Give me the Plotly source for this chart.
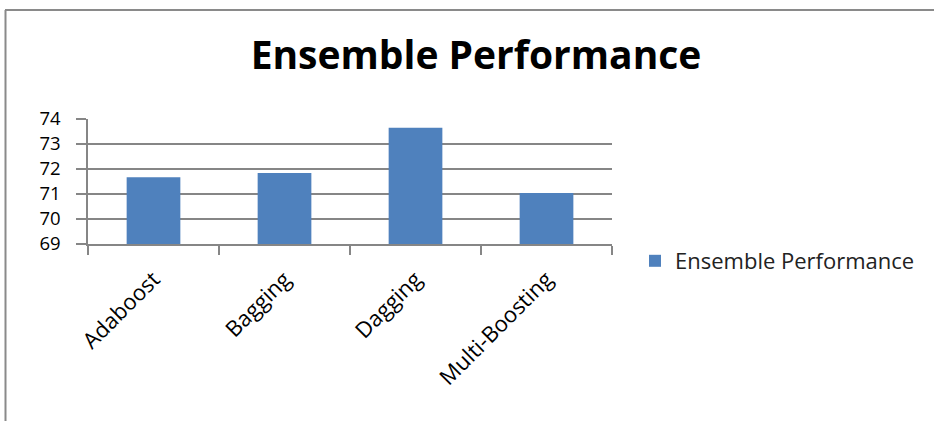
import plotly.graph_objects as go

categories = ["Adaboost", "Bagging", "Dagging", "Multi-Boosting"]
values = [71.67, 71.84, 73.65, 71.04]
series_name = "Ensemble Performance"
y_ticks = [69, 70, 71, 72, 73, 74]

W, H = 934, 421
L, R, T, B = 88, 612, 119, 244

fig = go.Figure()
fig.add_trace(go.Bar(
    x=categories, y=values, name=series_name,
    marker=dict(color="#4F81BD", line=dict(width=0)),
    width=0.41,
))

font = "Open Sans, sans-serif"

def px_x(p):
    return (p - L) / (R - L)

def px_y(p):
    return (B - p) / (B - T)

fig.update_layout(
    width=W, height=H,
    margin=dict(l=L, r=W - R, t=T, b=H - B, pad=0),
    paper_bgcolor="white", plot_bgcolor="white",
    title=dict(text="<b>Ensemble Performance</b>", x=476 / W, xanchor="center",
               y=1 - 55 / H, yanchor="middle", yref="container",
               font=dict(family=font, size=39, color="black")),
    showlegend=True,
    legend=dict(x=px_x(635), y=px_y(261), xanchor="left", yanchor="middle",
                font=dict(family=font, size=22, color="#222"),
                bgcolor="rgba(0,0,0,0)", itemwidth=30),
    xaxis=dict(type="category", tickson="boundaries", ticks="outside", ticklen=9,
               tickcolor="#868686", tickwidth=1.5, showline=True, linecolor="#868686",
               linewidth=1.5, tickangle=-45, showgrid=False, ticklabelstandoff=12,
               tickfont=dict(family=font, size=22, color="black")),
    yaxis=dict(range=[69, 74], tickvals=y_ticks, ticks="outside", ticklen=10,
               tickcolor="#868686", tickwidth=2, showline=True, linecolor="#868686",
               linewidth=1.5, showgrid=True, gridcolor="#868686", gridwidth=2,
               zeroline=False, ticklabelstandoff=12,
               tickfont=dict(family=font, size=18.5, color="black")),
    shapes=[
        dict(type="line", xref="paper", yref="paper", x0=px_x(5), x1=px_x(934),
             y0=px_y(10), y1=px_y(10), line=dict(color="#8a8a8a", width=2)),
        dict(type="line", xref="paper", yref="paper", x0=px_x(5.5), x1=px_x(5.5),
             y0=px_y(10), y1=px_y(421), line=dict(color="#8a8a8a", width=2)),
    ],
)

fig.write_html("out.html")
